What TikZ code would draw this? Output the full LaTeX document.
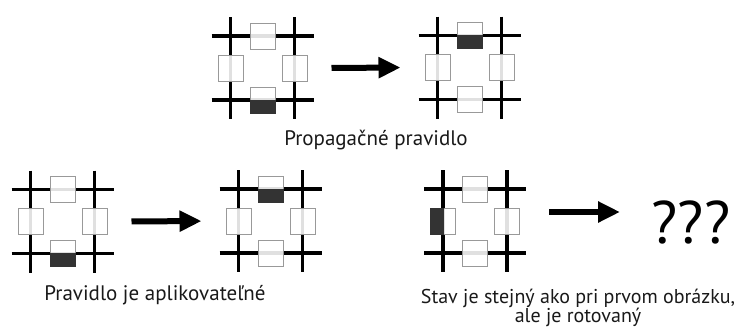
\documentclass[tikz,border=0pt]{standalone}
\usepackage{fontspec}
\setmainfont{PT Sans}
\usetikzlibrary{arrows.meta}

\tikzset{
  tileline/.style={line width=3.5pt},
  cellbox/.style={draw=black!40, line width=0.8pt, fill=white, fill opacity=0.88,
    minimum width=25pt, minimum height=26pt, inner sep=0pt, outer sep=0pt},
  darkhalf/.style={fill=black!80, draw=black!80, line width=0.8pt},
  bigarrow/.style={line width=6pt, -{Triangle[length=22pt,width=20pt]},
    shorten <=18pt, shorten >=18pt},
  caption/.style={font=\fontsize{21}{19}\selectfont, text=black!90, align=center,
    inner sep=0pt, anchor=base},
  pics/tile/.style={code={
    \draw[tileline] (-51,-32) -- (51,-32) (-51,32) -- (51,32)
                    (-32,-51) -- (-32,51) (32,-51) -- (32,51);
    \node[cellbox] (-n) at (0,-32) {};
    \node[cellbox] (-s) at (0,32) {};
    \node[cellbox] (-w) at (-32,0) {};
    \node[cellbox] (-e) at (32,0) {};
    \node[minimum size=102pt, inner sep=0pt, outer sep=0pt] (-box) at (0,0) {};
  }}
}

\begin{document}
\begin{tikzpicture}[x=1pt, y=-1pt]
\useasboundingbox (0,0) rectangle (747,327);

% upper row: the rule
\pic (t1) at (262.5,68) {tile};
\pic (t2) at (469.5,67.5) {tile};
\fill[darkhalf] (t1-s.west) rectangle (t1-s.south east);
\fill[darkhalf] (t2-n.west) rectangle (t2-n.south east);
\draw[bigarrow] (t1-box.east) -- (t2-box.west);
\node[caption] (cap1) at (376,145) {Propagačné pravidlo};

% lower left
\pic (t3) at (62.5,221.5) {tile};
\pic (t4) at (270.5,221) {tile};
\fill[darkhalf] (t3-s.west) rectangle (t3-s.south east);
\fill[darkhalf] (t4-n.west) rectangle (t4-n.south east);
\draw[bigarrow] (t3-box.east) -- (t4-box.west);
\node[caption] (cap2) at (155,300) {Pravidlo je aplikovateľné};

% lower right
\pic (t5) at (475,221) {tile};
\fill[darkhalf] (t5-w.north west) rectangle (t5-w.south);
\node[inner sep=0pt, font=\fontsize{60}{60}\selectfont] (what) at (691,222) {???};
\coordinate (aend) at (638,212);
\draw[bigarrow, shorten <=23pt] ([yshift=9pt]t5-box.east) -- (aend);
\node[caption, font=\fontsize{20}{19}\selectfont] (cap3) at (578,322)
  {Stav je stejný ako pri prvom obrázku,\\ale je rotovaný};
\end{tikzpicture}
\end{document}
